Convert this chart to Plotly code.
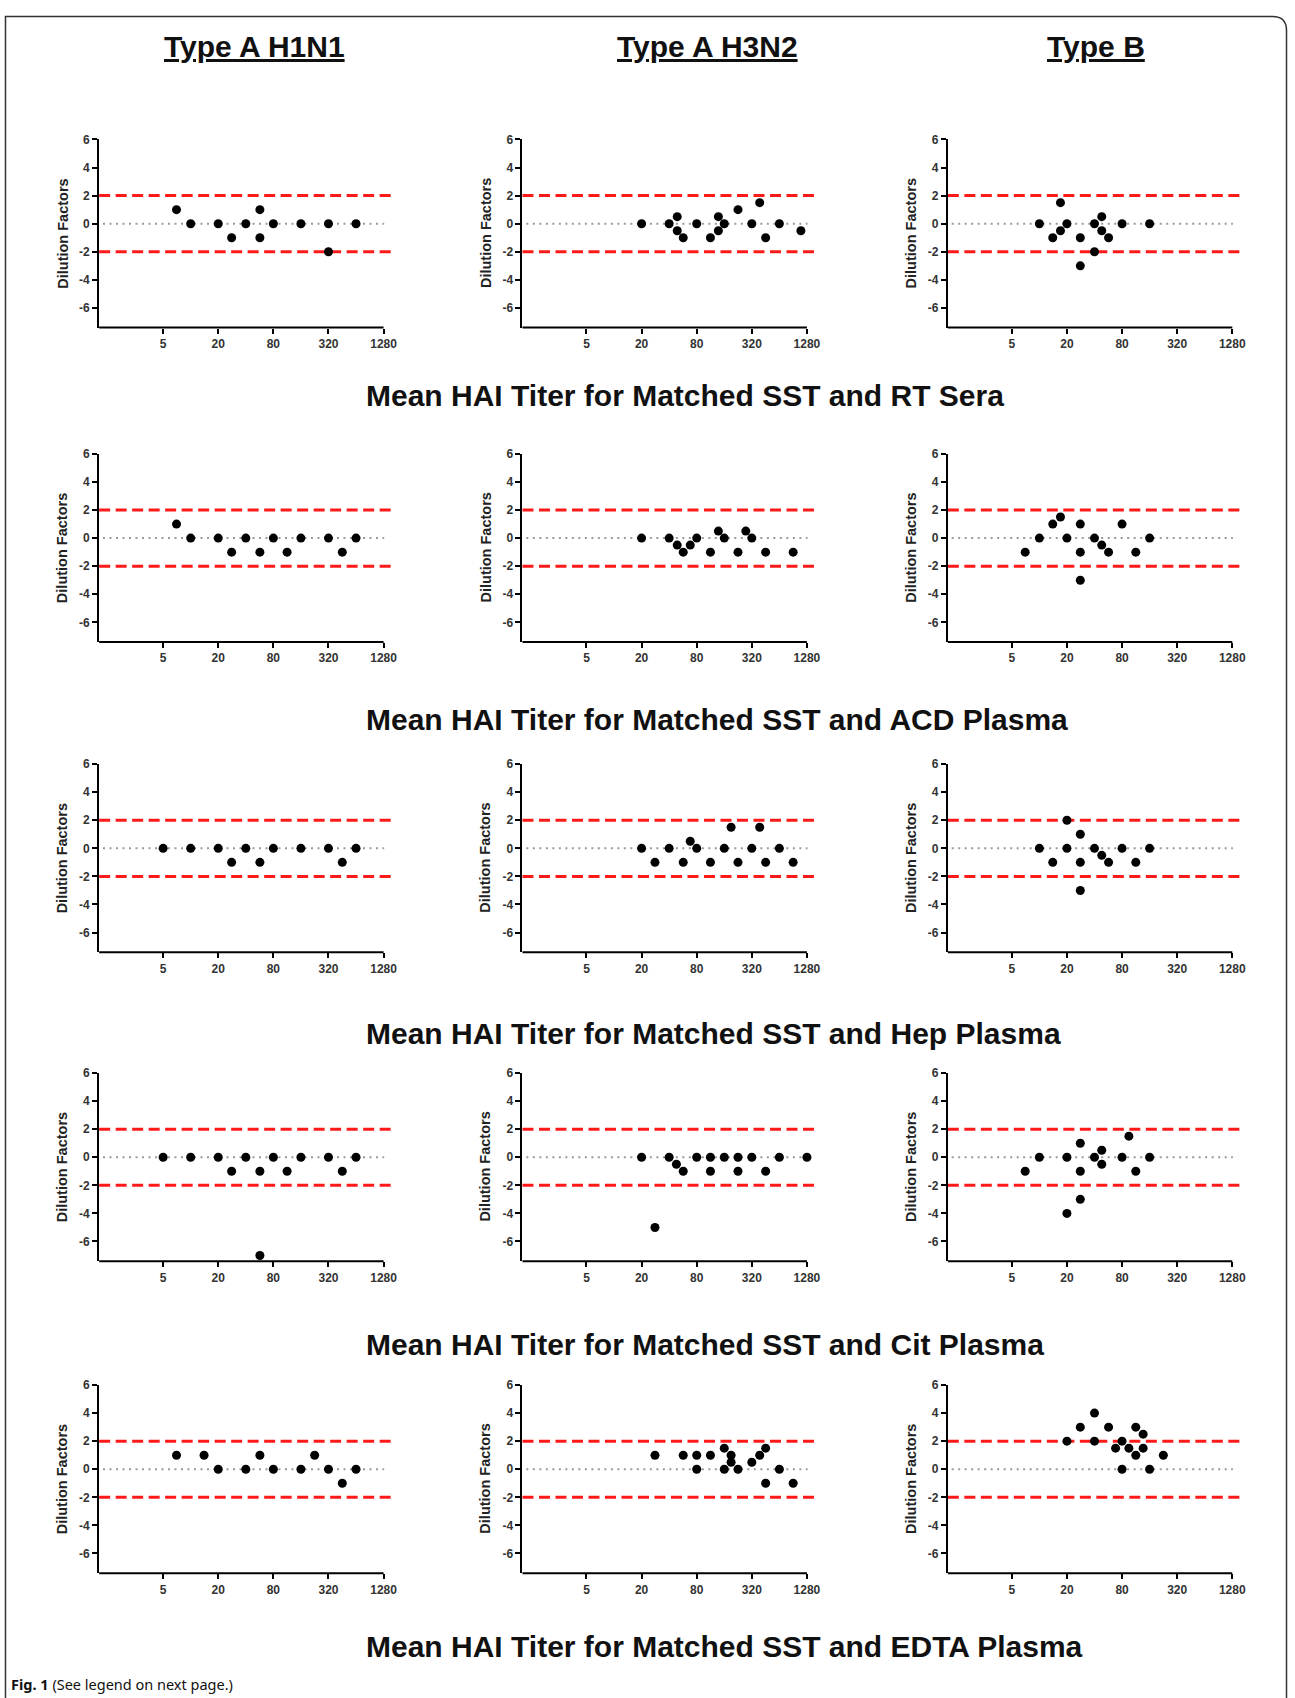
import numpy as np
import plotly.graph_objects as go

W, H = 1295, 1698

# ---------------- text ----------------
col_titles = ["Type A H1N1", "Type A H3N2", "Type B"]
row_titles = [
    "Mean HAI Titer for Matched SST and RT Sera",
    "Mean HAI Titer for Matched SST and ACD Plasma",
    "Mean HAI Titer for Matched SST and Hep Plasma",
    "Mean HAI Titer for Matched SST and Cit Plasma",
    "Mean HAI Titer for Matched SST and EDTA Plasma",
]
x_tick_vals = [5, 20, 80, 320, 1280]
x_tick_text = ["5", "20", "80", "320", "1280"]
y_tick_vals = [-6, -4, -2, 0, 2, 4, 6]
y_tick_text = ["-6", "-4", "-2", "0", "2", "4", "6"]
limit_lines = [-2, 2]
y_label = "Dilution Factors"
caption_bold = "Fig. 1"
caption_text = " (See legend on next page.)"

# ---------------- data (mean HAI titer, dilution-factor difference) ----------------
# Row 1: SST vs RT Sera
rt_h1n1_titer = [7, 10, 20, 28, 40, 57, 57, 80, 160, 320, 320, 640]
rt_h1n1_diff = [1, 0, 0, -1, 0, 1, -1, 0, 0, 0, -2, 0]
rt_h3n2_titer = [20, 40, 49, 49, 57, 80, 113, 138, 138, 160, 226, 320, 390, 453, 640, 1100]
rt_h3n2_diff = [0, 0, 0.5, -0.5, -1, 0, -1, -0.5, 0.5, 0, 1, 0, 1.5, -1, 0, -0.5]
rt_b_titer = [10, 14, 17, 17, 20, 28, 28, 40, 40, 48, 48, 57, 80, 160]
rt_b_diff = [0, -1, 1.5, -0.5, 0, -1, -3, 0, -2, 0.5, -0.5, -1, 0, 0]

# Row 2: SST vs ACD Plasma
acd_h1n1_titer = [7, 10, 20, 28, 40, 57, 80, 113, 160, 320, 453, 640]
acd_h1n1_diff = [1, 0, 0, -1, 0, -1, 0, -1, 0, 0, -1, 0]
acd_h3n2_titer = [20, 40, 49, 57, 68, 80, 113, 138, 160, 226, 275, 320, 453, 905]
acd_h3n2_diff = [0, 0, -0.5, -1, -0.5, 0, -1, 0.5, 0, -1, 0.5, 0, -1, -1]
acd_b_titer = [7, 10, 14, 17, 20, 28, 28, 28, 40, 48, 57, 80, 113, 160]
acd_b_diff = [-1, 0, 1, 1.5, 0, 1, -1, -3, 0, -0.5, -1, 1, -1, 0]

# Row 3: SST vs Hep Plasma
hep_h1n1_titer = [5, 10, 20, 28, 40, 57, 80, 160, 320, 453, 640]
hep_h1n1_diff = [0, 0, 0, -1, 0, -1, 0, 0, 0, -1, 0]
hep_h3n2_titer = [20, 28, 40, 57, 68, 80, 113, 160, 190, 226, 320, 390, 453, 640, 905]
hep_h3n2_diff = [0, -1, 0, -1, 0.5, 0, -1, 0, 1.5, -1, 0, 1.5, -1, 0, -1]
hep_b_titer = [10, 14, 20, 20, 28, 28, 28, 40, 48, 57, 80, 113, 160]
hep_b_diff = [0, -1, 2, 0, 1, -1, -3, 0, -0.5, -1, 0, -1, 0]

# Row 4: SST vs Cit Plasma
cit_h1n1_titer = [5, 10, 20, 28, 40, 57, 57, 80, 113, 160, 320, 453, 640]
cit_h1n1_diff = [0, 0, 0, -1, 0, -1, -7, 0, -1, 0, 0, -1, 0]
cit_h3n2_titer = [20, 28, 40, 48, 57, 80, 113, 113, 160, 226, 226, 320, 453, 640, 1280]
cit_h3n2_diff = [0, -5, 0, -0.5, -1, 0, -1, 0, 0, -1, 0, 0, -1, 0, 0]
cit_b_titer = [7, 10, 20, 20, 28, 28, 28, 40, 48, 48, 80, 95, 113, 160]
cit_b_diff = [-1, 0, 0, -4, 1, -1, -3, 0, 0.5, -0.5, 0, 1.5, -1, 0]

# Row 5: SST vs EDTA Plasma
edta_h1n1_titer = [7, 14, 20, 40, 57, 80, 160, 226, 320, 453, 640]
edta_h1n1_diff = [1, 1, 0, 0, 1, 0, 0, 1, 0, -1, 0]
edta_h3n2_titer = [28, 57, 80, 80, 113, 160, 160, 190, 190, 226, 320, 390, 453, 453, 640, 905]
edta_h3n2_diff = [1, 1, 1, 0, 1, 1.5, 0, 0.5, 1, 0, 0.5, 1, 1.5, -1, 0, -1]
edta_b_titer = [20, 28, 40, 40, 57, 68, 80, 80, 95, 113, 113, 136, 136, 160, 226]
edta_b_diff = [2, 3, 4, 2, 3, 1.5, 2, 0, 1.5, 3, 1, 2.5, 1.5, 0, 1]

panels = [
    [(rt_h1n1_titer, rt_h1n1_diff), (rt_h3n2_titer, rt_h3n2_diff), (rt_b_titer, rt_b_diff)],
    [(acd_h1n1_titer, acd_h1n1_diff), (acd_h3n2_titer, acd_h3n2_diff), (acd_b_titer, acd_b_diff)],
    [(hep_h1n1_titer, hep_h1n1_diff), (hep_h3n2_titer, hep_h3n2_diff), (hep_b_titer, hep_b_diff)],
    [(cit_h1n1_titer, cit_h1n1_diff), (cit_h3n2_titer, cit_h3n2_diff), (cit_b_titer, cit_b_diff)],
    [(edta_h1n1_titer, edta_h1n1_diff), (edta_h3n2_titer, edta_h3n2_diff), (edta_b_titer, edta_b_diff)],
]

# ---------------- geometry (pixels) ----------------
col_left = [99.3, 523.3, 949.3]
px_per_doubling = 27.6
span_doublings = 10.75            # axis runs from titer 1 to 2**10.75
row_zero = [217.6, 533.3, 844.8, 1155.0, 1468.3]
px_per_unit = 14.1
y_min, y_max = -7.4, 6.0
title_y = 40
col_title_x = [255, 709, 1098]
subtitle_y = [390, 715, 1031, 1343, 1646]
subtitle_left = 365
ylabel_offset = 37

FONT = "Liberation Sans, Arial, sans-serif"
fig = go.Figure()
shapes, annotations, axes = [], [], {}

axis_end = np.log2(max(x_tick_vals)) / span_doublings

for r in range(5):
    top = row_zero[r] - y_max * px_per_unit
    bot = row_zero[r] - y_min * px_per_unit
    for c in range(3):
        i = r * 3 + c + 1
        s = "" if i == 1 else str(i)
        xr, yr = "x" + s, "y" + s
        left = col_left[c]
        right = left + span_doublings * px_per_doubling
        axes["xaxis" + s] = dict(
            type="log", range=[0, span_doublings * np.log10(2)],
            domain=[left / W, right / W], anchor=yr,
            showline=False, showgrid=False, zeroline=False,
            ticks="outside", ticklen=5, tickwidth=2, tickcolor="black",
            tickvals=x_tick_vals, ticktext=x_tick_text,
            tickfont=dict(family=FONT, size=12, color="#333", weight="bold"),
            fixedrange=True,
        )
        axes["yaxis" + s] = dict(
            range=[y_min, y_max], domain=[1 - bot / H, 1 - top / H], anchor=xr,
            showline=True, linewidth=2, linecolor="black",
            showgrid=False, zeroline=False,
            ticks="outside", ticklen=5, tickwidth=2, tickcolor="black",
            tickvals=y_tick_vals, ticktext=y_tick_text,
            tickfont=dict(family=FONT, size=12, color="#333", weight="bold"),
            fixedrange=True,
        )
        tx, ty = panels[r][c]
        fig.add_trace(go.Scatter(
            x=tx, y=ty, xaxis=xr, yaxis=yr, mode="markers",
            marker=dict(color="black", size=9, line=dict(width=0)),
            cliponaxis=False, showlegend=False, hoverinfo="skip",
        ))
        # x axis line ending at 1280
        shapes.append(dict(type="line", xref=xr + " domain", yref=yr + " domain",
                           x0=0, x1=axis_end, y0=0, y1=0,
                           line=dict(color="black", width=2)))
        # zero dotted line
        shapes.append(dict(type="line", xref=xr + " domain", yref=yr,
                           x0=0.013, x1=axis_end + 0.002, y0=0, y1=0, layer="below",
                           line=dict(color="#999999", width=2, dash="2px,4.5px")))
        # +-2 limits
        for lv in limit_lines:
            shapes.append(dict(type="line", xref=xr + " domain", yref=yr,
                               x0=0, x1=1, y0=lv, y1=lv, layer="below",
                               line=dict(color="#ff1a1a", width=3, dash="11px,5.5px")))
        # y label
        annotations.append(dict(
            text="<b>" + y_label + "</b>", textangle=-90,
            x=(left - ylabel_offset) / W, y=1 - (top + bot) / 2 / H,
            xref="paper", yref="paper", showarrow=False,
            xanchor="center", yanchor="middle",
            font=dict(family=FONT, size=14.5, color="#222"),
        ))
    annotations.append(dict(
        text="<b>" + row_titles[r] + "</b>",
        x=subtitle_left / W, y=1 - subtitle_y[r] / H, xref="paper", yref="paper",
        xanchor="left", yanchor="middle", showarrow=False,
        font=dict(family=FONT, size=30, color="#111"),
    ))

for c in range(3):
    annotations.append(dict(
        text="<b><u>" + col_titles[c] + "</u></b>",
        x=col_title_x[c] / W, y=1 - title_y / H, xref="paper", yref="paper",
        xanchor="center", yanchor="middle", showarrow=False,
        font=dict(family=FONT, size=30, color="#111"),
    ))

annotations.append(dict(
    text="<b>" + caption_bold + "</b>" + caption_text,
    x=9 / W, y=1 - 1684 / H, xref="paper", yref="paper",
    xanchor="left", yanchor="middle", showarrow=False,
    font=dict(family="Noto Sans, Open Sans, sans-serif", size=14.5, color="#111"),
))

# frame around the figure (rounded top-right corner)
def px(x, y):
    return f"{x / W:.5f},{1 - y / H:.5f}"

fl, ft, fr, rad = 5.5, 9.5, 1288.5, 14
frame_path = (f"M {px(fl, H)} L {px(fl, ft)} L {px(fr - rad, ft)} "
              f"Q {px(fr, ft)} {px(fr, ft + rad)} L {px(fr, H)}")
shapes.append(dict(type="path", xref="paper", yref="paper", path=frame_path,
                   line=dict(color="#333", width=1.5)))

fig.update_layout(
    width=W, height=H, margin=dict(l=0, r=0, t=0, b=0),
    paper_bgcolor="white", plot_bgcolor="white",
    shapes=shapes, annotations=annotations, showlegend=False,
    **axes,
)

fig.write_html("out.html", post_script="document.body.style.margin='0';",
               config={"displayModeBar": False})
